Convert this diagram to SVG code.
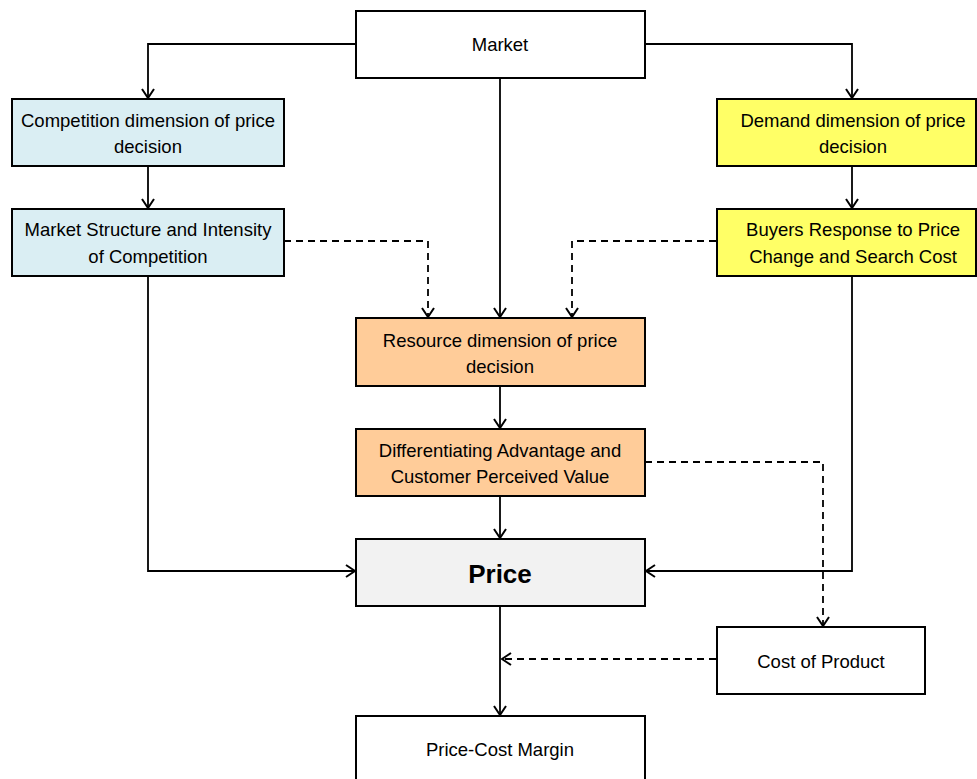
<svg xmlns="http://www.w3.org/2000/svg" width="977" height="779" viewBox="0 0 977 779">
<style>
.box{stroke:#000;stroke-width:2}
.t{font-family:"Liberation Sans",Arial,sans-serif;font-size:18.5px;fill:#000;text-anchor:middle}
.c{fill:none;stroke:#000;stroke-width:1.8}
.d{stroke-dasharray:7,5}
</style>
<defs>
<marker id="ah" viewBox="0 0 14 14" refX="13" refY="7" markerWidth="14" markerHeight="14" markerUnits="userSpaceOnUse" orient="auto">
<path d="M4,1 L13,7 L4,13" fill="none" stroke="#000" stroke-width="2"/>
</marker>
</defs>
<rect width="977" height="779" fill="#fff"/>
<g id="connectors">
<path class="c" d="M356,44 H148 V98" marker-end="url(#ah)"/>
<path class="c" d="M645,44 H852 V98" marker-end="url(#ah)"/>
<path class="c" d="M148,166 V208" marker-end="url(#ah)"/>
<path class="c" d="M852,166 V208" marker-end="url(#ah)"/>
<path class="c" d="M500,78 V317" marker-end="url(#ah)"/>
<path class="c d" d="M284,241 H428 V317" marker-end="url(#ah)"/>
<path class="c d" d="M716,241 H572 V317" marker-end="url(#ah)"/>
<path class="c" d="M500,387 V428" marker-end="url(#ah)"/>
<path class="c" d="M500,496 V538" marker-end="url(#ah)"/>
<path class="c" d="M148,276 V571 H355" marker-end="url(#ah)"/>
<path class="c" d="M852,276 V571 H646" marker-end="url(#ah)"/>
<path class="c d" d="M645,462 H823 V626" marker-end="url(#ah)"/>
<path class="c d" d="M716,659 H502" marker-end="url(#ah)"/>
<path class="c" d="M500,606 V715" marker-end="url(#ah)"/>
</g>
<g id="market">
<rect class="box" x="356" y="11" width="289" height="67" fill="#fff"/>
<text class="t" x="500" y="51">Market</text>
</g>
<g id="competition">
<rect class="box" x="12" y="99" width="272" height="67" fill="#DAEEF3"/>
<text class="t" x="148" y="127">Competition dimension of price</text>
<text class="t" x="148" y="153">decision</text>
</g>
<g id="market-structure">
<rect class="box" x="12" y="209" width="272" height="67" fill="#DAEEF3"/>
<text class="t" x="148" y="236">Market Structure and Intensity</text>
<text class="t" x="148" y="263">of Competition</text>
</g>
<g id="demand">
<rect class="box" x="717" y="99" width="259" height="67" fill="#FFFF66"/>
<text class="t" x="853" y="127">Demand dimension of price</text>
<text class="t" x="853" y="153">decision</text>
</g>
<g id="buyers">
<rect class="box" x="717" y="209" width="259" height="67" fill="#FFFF66"/>
<text class="t" x="853" y="236">Buyers Response to Price</text>
<text class="t" x="853" y="263">Change and Search Cost</text>
</g>
<g id="resource">
<rect class="box" x="356" y="318" width="289" height="68" fill="#FFCC99"/>
<text class="t" x="500" y="347">Resource dimension of price</text>
<text class="t" x="500" y="373">decision</text>
</g>
<g id="differentiating">
<rect class="box" x="356" y="429" width="289" height="67" fill="#FFCC99"/>
<text class="t" x="500" y="457">Differentiating Advantage and</text>
<text class="t" x="500" y="483">Customer Perceived Value</text>
</g>
<g id="price">
<rect class="box" x="356" y="539" width="289" height="67" fill="#F2F2F2"/>
<text class="t" x="500" y="583" style="font-size:26px;font-weight:bold">Price</text>
</g>
<g id="cost">
<rect class="box" x="717" y="627" width="208" height="67" fill="#fff"/>
<text class="t" x="821" y="668">Cost of Product</text>
</g>
<g id="margin">
<rect class="box" x="356" y="716" width="289" height="70" fill="#fff"/>
<text class="t" x="500" y="756">Price-Cost Margin</text>
</g>
</svg>
